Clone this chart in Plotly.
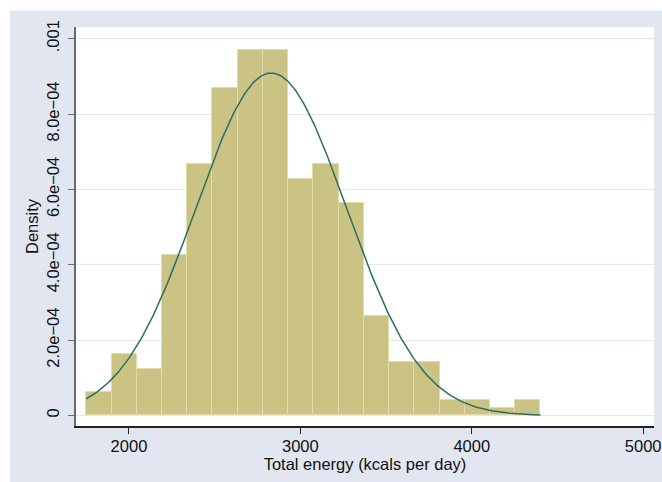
import numpy as np
import plotly.graph_objects as go

# Histogram values
bin_start = 1751.0
bin_width = 147.2
density = [0.61e-4, 1.62e-4, 1.22e-4, 4.25e-4, 6.67e-4, 8.69e-4, 9.70e-4, 9.70e-4,
           6.27e-4, 6.67e-4, 5.65e-4, 2.63e-4, 1.42e-4, 1.42e-4, 0.41e-4, 0.41e-4,
           0.21e-4, 0.41e-4]

# Normal overlay parameters (mean, sd)
norm_mean = 2830.0
norm_sd = 439.0

x_ticks = [2000, 3000, 4000, 5000]
x_tick_text = ["2000", "3000", "4000", "5000"]
y_ticks = [0, 2e-4, 4e-4, 6e-4, 8e-4, 1e-3]
y_tick_text = ["0", "2.0e\u221204", "4.0e\u221204", "6.0e\u221204", "8.0e\u221204", ".001"]

x_title = "Total energy (kcals per day)"
y_title = "Density"

centers = [bin_start + bin_width * (i + 0.5) for i in range(len(density))]
x_lo = bin_start
x_hi = bin_start + bin_width * len(density)
xs = np.linspace(x_lo, x_hi, 300)
ys = np.exp(-0.5 * ((xs - norm_mean) / norm_sd) ** 2) / (norm_sd * np.sqrt(2 * np.pi))

FONT = "Liberation Sans, Arial, Helvetica, sans-serif"
BG = "#e1e6f0"

fig = go.Figure()
fig.add_trace(go.Bar(
    x=centers, y=density, width=bin_width,
    marker=dict(color="#cbc383", line=dict(color="#e2dcab", width=1)),
    showlegend=False, hoverinfo="skip",
))
fig.add_trace(go.Scatter(
    x=xs, y=ys, mode="lines",
    line=dict(color="#2b6e66", width=1.5),
    showlegend=False, hoverinfo="skip",
))

# white strips at top and left of the outer region
fig.add_shape(type="rect", xref="paper", yref="paper",
              x0=-0.3, x1=1.2, y0=1.0414, y1=1.2,
              fillcolor="white", line=dict(width=0), layer="below")
fig.add_shape(type="rect", xref="paper", yref="paper",
              x0=-0.3, x1=-0.1142, y0=-0.3, y1=1.2,
              fillcolor="white", line=dict(width=0), layer="below")

fig.update_layout(
    width=662, height=482,
    margin=dict(l=76, r=8, t=27, b=56, autoexpand=False),
    paper_bgcolor=BG, plot_bgcolor="white",
    font=dict(family=FONT, size=16.5, color="#111111"),
    bargap=0,
    showlegend=False,
    xaxis=dict(
        range=[1691, 5063], tickvals=x_ticks, ticktext=x_tick_text,
        automargin=False,
        showgrid=False, zeroline=False,
        showline=True, linecolor="#222222", linewidth=1.5,
        ticks="outside", ticklen=6, tickcolor="#222222", tickwidth=1,
        ticklabelstandoff=-2,
        title=dict(text=x_title, font=dict(size=16.5), standoff=0),
    ),
    yaxis=dict(
        range=[-0.28e-4, 10.31e-4], tickvals=y_ticks, ticktext=y_tick_text,
        automargin=False,
        tickangle=-90,
        showgrid=True, gridcolor="#e1e6f0", gridwidth=1.2, zeroline=False,
        showline=True, linecolor="#6a6a6a", linewidth=2,
        ticks="outside", ticklen=6, tickcolor="#6a6a6a", tickwidth=1,
        ticklabelstandoff=2,
        title=dict(text=y_title, font=dict(size=16.5), standoff=2),
    ),
)

fig.write_html("out.html")
